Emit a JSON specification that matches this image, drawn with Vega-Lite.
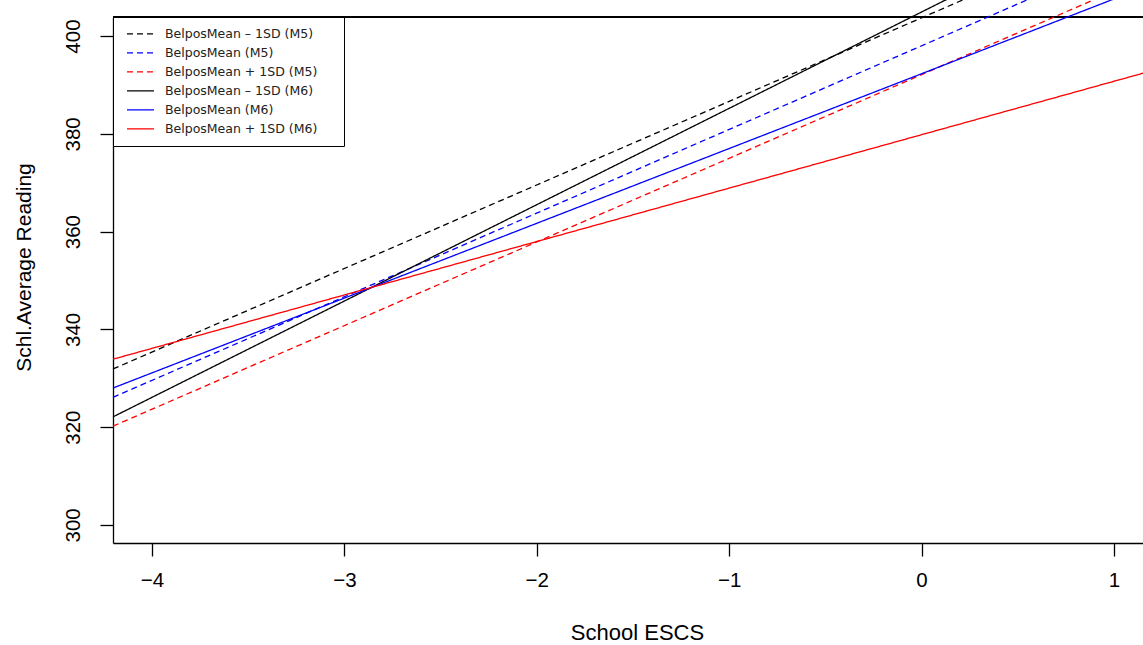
{
  "$schema": "https://vega.github.io/schema/vega-lite/v6.json",
  "autosize": "none",
  "width": 1030,
  "height": 526,
  "padding": {"left": 113, "top": 17, "right": 0, "bottom": 102},
  "background": "white",
  "config": {
    "view": {"stroke": null},
    "axis": {
      "labelFont": "Liberation Sans",
      "titleFont": "Liberation Sans",
      "labelColor": "black",
      "titleColor": "black",
      "titleFontWeight": "normal",
      "domainColor": "black",
      "tickColor": "black",
      "domainWidth": 1.3,
      "tickWidth": 1.3,
      "tickSize": 13,
      "grid": false
    },
    "legend": {
      "title": null,
      "orient": "top-left",
      "offset": 0,
      "symbolType": "stroke",
      "symbolStrokeWidth": 1.3,
      "labelFont": "DejaVu Sans",
      "labelFontSize": 12.5,
      "labelColor": "#222222",
      "labelLimit": 400,
      "strokeColor": "black",
      "fillColor": "white"
    }
  },
  "data": {
    "values": [
      {"series": "BelposMean – 1SD (M5)", "escs": -4.203, "reading": 331.9},
      {"series": "BelposMean – 1SD (M5)", "escs": 1.151, "reading": 423.4},
      {"series": "BelposMean (M5)", "escs": -4.203, "reading": 326.1},
      {"series": "BelposMean (M5)", "escs": 1.151, "reading": 417.7},
      {"series": "BelposMean + 1SD (M5)", "escs": -4.203, "reading": 320.2},
      {"series": "BelposMean + 1SD (M5)", "escs": 1.151, "reading": 411.8},
      {"series": "BelposMean – 1SD (M6)", "escs": -4.203, "reading": 322.1},
      {"series": "BelposMean – 1SD (M6)", "escs": 1.151, "reading": 427.6},
      {"series": "BelposMean (M6)", "escs": -4.203, "reading": 328.0},
      {"series": "BelposMean (M6)", "escs": 1.151, "reading": 409.9},
      {"series": "BelposMean + 1SD (M6)", "escs": -4.203, "reading": 333.9},
      {"series": "BelposMean + 1SD (M6)", "escs": 1.151, "reading": 392.4}
    ]
  },
  "layer": [
    {
      "mark": {"type": "rule", "color": "black", "strokeWidth": 1.3},
      "encoding": {"y": {"datum": 403.9, "type": "quantitative"}}
    },
    {
      "mark": {"type": "line", "clip": false, "strokeWidth": 1.3},
      "encoding": {
        "x": {
          "field": "escs",
          "type": "quantitative",
          "scale": {"domain": [-4.203, 1.151], "nice": false, "zero": false},
          "axis": {
            "title": "School ESCS",
            "values": [-4, -3, -2, -1, 0, 1],
            "labelFontSize": 20.5,
            "labelPadding": 14,
            "titleFontSize": 22,
            "titleBaseline": "alphabetic",
            "titleAlign": "center",
            "titleX": 524,
            "titleY": 96
          }
        },
        "y": {
          "field": "reading",
          "type": "quantitative",
          "scale": {"domain": [296.3, 403.9], "nice": false, "zero": false},
          "axis": {
            "title": "Schl.Average Reading",
            "values": [300, 320, 340, 360, 380, 400],
            "labelAngle": -90,
            "labelAlign": "center",
            "labelBaseline": "bottom",
            "labelFontSize": 20.5,
            "labelPadding": 17,
            "titleFontSize": 21,
            "titleAngle": -90,
            "titleAlign": "center",
            "titleBaseline": "alphabetic",
            "titleX": -83,
            "titleY": 250
          }
        },
        "color": {
          "field": "series",
          "type": "nominal",
          "scale": {
            "domain": ["BelposMean – 1SD (M5)", "BelposMean (M5)", "BelposMean + 1SD (M5)", "BelposMean – 1SD (M6)", "BelposMean (M6)", "BelposMean + 1SD (M6)"],
            "range": ["#000000", "#0000ff", "#ff0000", "#000000", "#0000ff", "#ff0000"]
          },
          "legend": {
            "padding": 7.5,
            "symbolOffset": 5.5,
            "symbolSize": 729,
            "labelOffset": 10,
            "rowPadding": 0,
            "clipHeight": 18.7,
            "labelExpr": "datum.label + '\u2003\u2002\u200b'"
          }
        },
        "strokeDash": {
          "field": "series",
          "type": "nominal",
          "scale": {
            "domain": ["BelposMean – 1SD (M5)", "BelposMean (M5)", "BelposMean + 1SD (M5)", "BelposMean – 1SD (M6)", "BelposMean (M6)", "BelposMean + 1SD (M6)"],
            "range": [[6, 4], [6, 4], [6, 4], [1, 0], [1, 0], [1, 0]]
          },
          "legend": {
            "padding": 7.5,
            "symbolOffset": 5.5,
            "symbolSize": 729,
            "labelOffset": 10,
            "rowPadding": 0,
            "clipHeight": 18.7,
            "labelExpr": "datum.label + '\u2003\u2002\u200b'"
          }
        }
      }
    }
  ]
}
